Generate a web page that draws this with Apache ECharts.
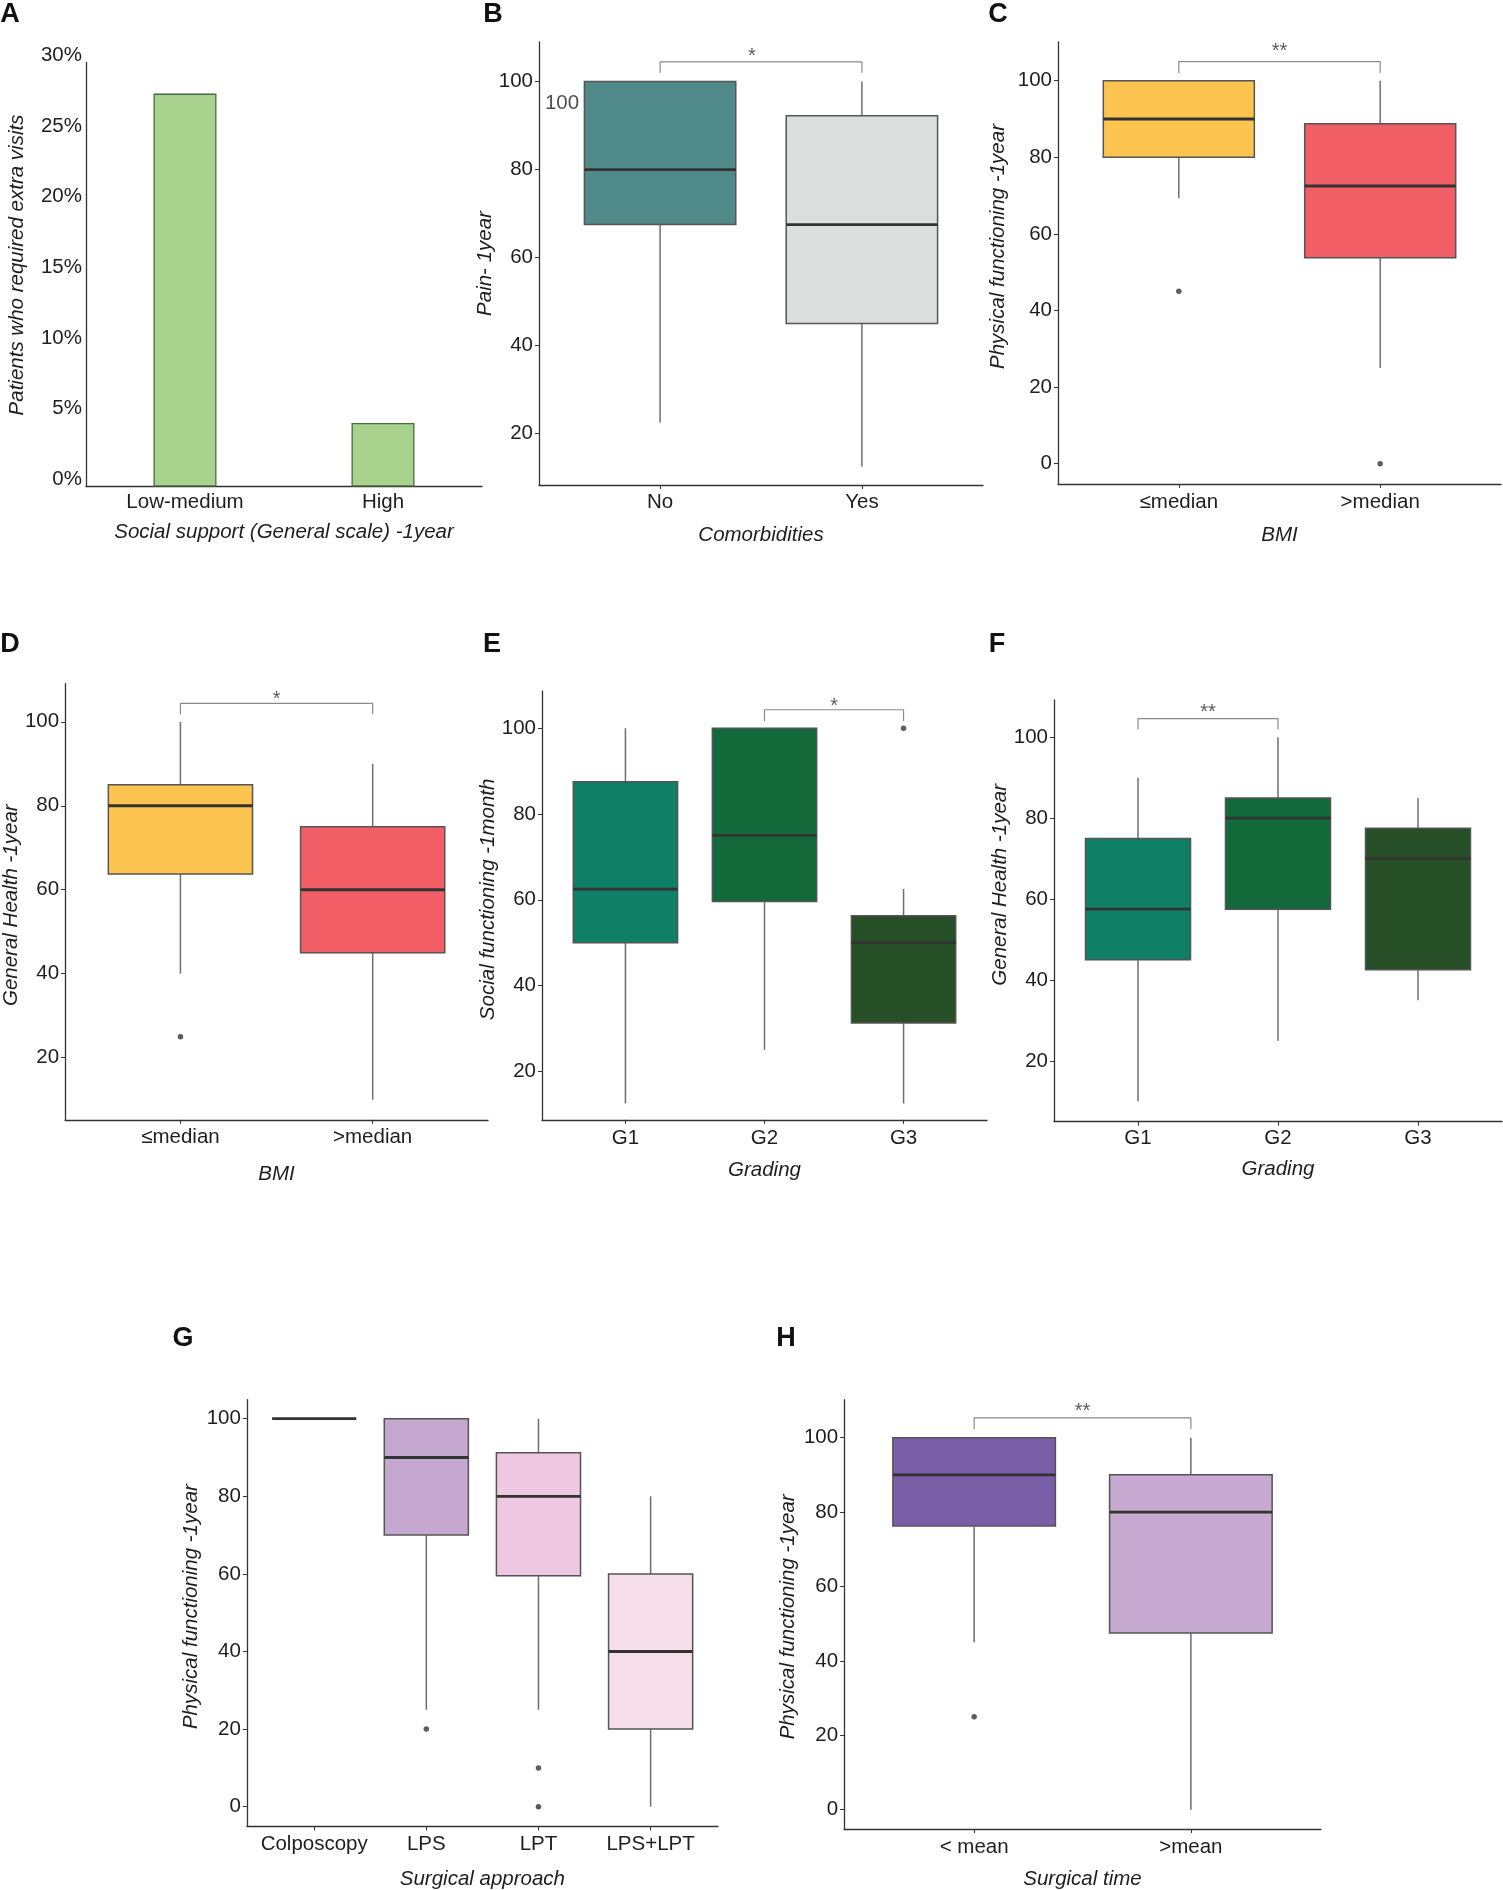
<!DOCTYPE html>
<html>
<head>
<meta charset="utf-8">
<script src="https://cdn.jsdelivr.net/npm/echarts@6/dist/echarts.min.js"></script>
<style>
html,body{margin:0;padding:0;background:#fff;}
#c{width:1503px;height:1890px;}
</style>
</head>
<body>
<div id="c"></div>
<script>
// ---------------- DATA ----------------
// Panel A (bar, percent)
const catsA = ['Low-medium', 'High'];
const valsA = [27.8, 4.5];

// Box data: [lower whisker, Q1, median, Q3, upper whisker]
const catsB = ['No', 'Yes'];
const boxB = [[22.5, 67.5, 80, 100, 100], [12.5, 45, 67.5, 92.25, 100]];
const outB = [];
const sigB = [1, 2, 104.5, 102];
const starB = ['*', 1.455, 106.9];
const noteB = ['100', 0.514, 95.1];

const catsC = ['\u2264median', '>median'];
const boxC = [[69.3, 80, 90, 100, 100], [25, 53.75, 72.5, 88.75, 100]];
const outC = [[1, 45], [2, 0]];
const sigC = [1, 2, 105, 102];
const starC = ['**', 1.5, 108.9];

const catsD = ['\u2264median', '>median'];
const boxD = [[40, 63.75, 80, 85, 100], [10, 45, 60, 75, 90]];
const outD = [[1, 25]];
const sigD = [1, 2, 104.4, 101.8];
const starD = ['*', 1.5, 106.5];

const catsE = ['G1', 'G2', 'G3'];
const boxE = [[12.5, 50, 62.5, 87.5, 100], [25, 59.6, 75, 100, 100], [12.5, 31.25, 50, 56.25, 62.5]];
const outE = [[3, 100]];
const sigE = [2, 3, 104.3, 101.7];
const starE = ['*', 2.5, 106.2];

const catsF = ['G1', 'G2', 'G3'];
const boxF = [[10, 45, 57.5, 75, 90], [25, 57.5, 80, 85, 100], [35, 42.5, 70, 77.5, 85]];
const outF = [];
const sigF = [1, 2, 104.6, 102];
const starF = ['**', 1.5, 107.4];

const catsG = ['Colposcopy', 'LPS', 'LPT', 'LPS+LPT'];
const boxG = [[100, 100, 100, 100, 100], [25, 70, 90, 100, 100], [25, 59.5, 80, 91.25, 100], [0, 20, 40, 60, 80]];
const outG = [[2, 20], [3, 10], [3, 0]];

const catsH = ['< mean', '>mean'];
const boxH = [[45, 76.25, 90, 100, 100], [0, 47.5, 80, 90, 100]];
const outH = [[1, 25]];
const sigH = [1, 2, 105.3, 102.3];
const starH = ['**', 1.5, 108.4];

const ticksY = [0, 20, 40, 60, 80, 100];

// ---------------- STYLE ----------------
const FONT = '"Liberation Sans", Arial, Helvetica, sans-serif';
const FS = 20.5;
const TXT = '#1e1e1e';
const AX = '#333';

const panels = [
  {cats: catsB, box: boxB, out: outB, sig: sigB, star: starB, note: noteB,
   colors: ['#508a88', '#dcdedd'], grid: {left: 539, top: 42, width: 444, height: 443},
   yMin: 8.3, yMax: 109.0, xName: 'Comorbidities', yName: 'Pain- 1year',
   lblM: 7, xGap: 40, yGap: 40.5, yPad: [0, 0, 0, 0]},
  {cats: catsC, box: boxC, out: outC, sig: sigC, star: starC,
   colors: ['#fec450', '#f15e66'], grid: {left: 1058, top: 42, width: 443, height: 442},
   yMin: -5.3, yMax: 110.1, xName: 'BMI', yName: 'Physical functioning -1year',
   lblM: 7.5, xGap: 41.5, yGap: 49.5, yPad: [0, 0, 0, 33]},
  {cats: catsD, box: boxD, out: outD, sig: sigD, star: starD,
   colors: ['#fec450', '#f15e66'], grid: {left: 59, top: 683.6, width: 429, height: 436.2},
   yMin: 5.2, yMax: 109.1, xName: 'BMI', yName: 'General Health -1year',
   lblM: 7, xGap: 44.5, yGap: 38.5, yPad: [0, 7, 0, 0]},
  {cats: catsE, box: boxE, out: outE, sig: sigE, star: starE,
   colors: ['#0f7f66', '#126939', '#264f28'], grid: {left: 542, top: 690.9, width: 445, height: 428.9},
   yMin: 8.7, yMax: 108.7, xName: 'Grading', yName: 'Social functioning -1month',
   lblM: 8, xGap: 40, yGap: 34.5, yPad: [0, 0, 0, 12]},
  {cats: catsF, box: boxF, out: outF, sig: sigF, star: starF,
   colors: ['#0f7f66', '#126939', '#264f28'], grid: {left: 1054, top: 700, width: 448, height: 421.6},
   yMin: 5.0, yMax: 109.2, xName: 'Grading', yName: 'General Health -1year',
   lblM: 6.5, xGap: 38, yGap: 33.5, yPad: [0, 0, 0, 52]},
  {cats: catsG, box: boxG, out: outG,
   colors: ['#ffffff', '#c5a8d0', '#edc8e0', '#f7deeb'], grid: {left: 246.9, top: 1399.7, width: 471, height: 427},
   yMin: -5.1, yMax: 104.9, xName: 'Surgical approach', yName: 'Physical functioning -1year',
   lblM: 7.5, xGap: 42.5, yGap: 45.5, yPad: [0, 0, 0, 13]},
  {cats: catsH, box: boxH, out: outH, sig: sigH, star: starH,
   colors: ['#7a5ea8', '#c6aad1'], grid: {left: 844.1, top: 1399.7, width: 476.8, height: 429.6},
   yMin: -5.2, yMax: 110.2, xName: 'Surgical time', yName: 'Physical functioning -1year',
   lblM: 8, xGap: 40, yGap: 45.5, yPad: [0, 5, 0, 0]}
];

const grids = [], xAxes = [], yAxes = [], series = [];

// Panel A
grids.push({left: 86, top: 62.5, width: 396, height: 424});
xAxes.push({
  gridIndex: 0, type: 'category', data: catsA,
  axisLine: {show: true, lineStyle: {color: AX, width: 1.3}},
  axisTick: {show: false},
  axisLabel: {fontSize: FS, color: TXT, fontFamily: FONT, margin: 5.5},
  name: 'Social support (General scale) -1year', nameLocation: 'middle', nameGap: 35.5,
  nameTextStyle: {fontSize: FS, fontStyle: 'italic', color: TXT, fontFamily: FONT}
});
yAxes.push({
  gridIndex: 0, type: 'value', min: 0, max: 30, interval: 5,
  axisLine: {show: true, lineStyle: {color: AX, width: 1.3}},
  axisTick: {show: false}, splitLine: {show: false},
  axisLabel: {fontSize: FS, color: TXT, fontFamily: FONT, margin: 4, formatter: '{value}%',
              verticalAlign: 'bottom', lineHeight: 14},
  name: 'Patients who required extra visits', nameLocation: 'middle', nameGap: 58.5,
  nameTextStyle: {fontSize: FS, fontStyle: 'italic', color: TXT, fontFamily: FONT, padding: [0, 0, 0, 19]}
});
series.push({
  type: 'bar', xAxisIndex: 0, yAxisIndex: 0, data: valsA, barWidth: 63,
  itemStyle: {color: '#a9d18e', borderColor: '#4d6a3e', borderWidth: 1.3},
  silent: true
});

function boxRenderer(colors) {
  return function (params, api) {
    const x = api.value(0);
    const lo = api.value(1), q1 = api.value(2), md = api.value(3), q3 = api.value(4), hi = api.value(5);
    const hw = 0.375;
    const pTL = api.coord([x - hw, q3]);
    const pBR = api.coord([x + hw, q1]);
    const cx = api.coord([x, md])[0];
    const yMd = api.coord([x, md])[1];
    const yHi = api.coord([x, hi])[1];
    const yLo = api.coord([x, lo])[1];
    const wh = {stroke: '#6e6e6e', lineWidth: 1.5};
    return {
      type: 'group',
      children: [
        {type: 'line', shape: {x1: cx, y1: yHi, x2: cx, y2: pTL[1]}, style: wh},
        {type: 'line', shape: {x1: cx, y1: pBR[1], x2: cx, y2: yLo}, style: wh},
        {type: 'rect', shape: {x: pTL[0], y: pTL[1], width: pBR[0] - pTL[0], height: pBR[1] - pTL[1]},
         style: {fill: colors[params.dataIndex], stroke: '#555', lineWidth: 1.5}},
        {type: 'line', shape: {x1: pTL[0], y1: yMd, x2: pBR[0], y2: yMd}, style: {stroke: '#333', lineWidth: 2.8}}
      ]
    };
  };
}

panels.forEach((p, k) => {
  const gi = k + 1;
  grids.push(p.grid);
  const n = p.cats.length;
  const pos = p.cats.map((c, i) => i + 1);
  xAxes.push({
    gridIndex: gi, type: 'value', min: 0.4, max: n + 0.6,
    axisLine: {show: true, onZero: false, lineStyle: {color: AX, width: 1.3}},
    axisTick: {show: true, length: 4, customValues: pos, lineStyle: {color: AX}},
    axisLabel: {customValues: pos, fontSize: FS, color: TXT, fontFamily: FONT, margin: p.lblM,
                formatter: (v) => p.cats[Math.round(v) - 1]},
    splitLine: {show: false},
    name: p.xName, nameLocation: 'middle', nameGap: p.xGap,
    nameTextStyle: {fontSize: FS, fontStyle: 'italic', color: TXT, fontFamily: FONT}
  });
  yAxes.push({
    gridIndex: gi, type: 'value', min: p.yMin, max: p.yMax,
    axisLine: {show: true, onZero: false, lineStyle: {color: AX, width: 1.3}},
    axisTick: {show: true, length: 4, customValues: ticksY, lineStyle: {color: AX}},
    axisLabel: {customValues: ticksY, fontSize: FS, color: TXT, fontFamily: FONT, margin: 6},
    splitLine: {show: false},
    name: p.yName, nameLocation: 'middle', nameGap: p.yGap,
    nameTextStyle: {fontSize: FS, fontStyle: 'italic', color: TXT, fontFamily: FONT, padding: p.yPad}
  });
  series.push({
    type: 'custom', xAxisIndex: gi, yAxisIndex: gi,
    data: p.box.map((b, i) => [i + 1].concat(b)),
    encode: {x: 0, y: [1, 2, 3, 4, 5]},
    renderItem: boxRenderer(p.colors), silent: true
  });
  if (p.out.length) {
    series.push({
      type: 'scatter', xAxisIndex: gi, yAxisIndex: gi, data: p.out,
      symbolSize: 5.5, itemStyle: {color: '#333'}, silent: true
    });
  }
  if (p.sig) {
    const s = p.sig;
    series.push({
      type: 'line', xAxisIndex: gi, yAxisIndex: gi,
      data: [[s[0], s[3]], [s[0], s[2]], [s[1], s[2]], [s[1], s[3]]],
      symbol: 'none', lineStyle: {color: '#8a8a8a', width: 1.2}, silent: true
    });
    series.push({
      type: 'scatter', xAxisIndex: gi, yAxisIndex: gi,
      data: [[p.star[1], p.star[2]]], symbolSize: 1, itemStyle: {color: 'transparent'},
      label: {show: true, position: 'inside', formatter: p.star[0], fontSize: 20, color: '#333',
              fontFamily: FONT, offset: [0, 5]},
      silent: true
    });
  }
  if (p.note) {
    series.push({
      type: 'scatter', xAxisIndex: gi, yAxisIndex: gi,
      data: [[p.note[1], p.note[2]]], symbolSize: 1, itemStyle: {color: 'transparent'},
      label: {show: true, position: 'inside', formatter: p.note[0], fontSize: FS, color: TXT, fontFamily: FONT},
      silent: true
    });
  }
});

const letters = [['A', 10, 15], ['B', 493, 15], ['C', 998, 15], ['D', 10, 645], ['E', 492, 645],
                 ['F', 997, 645], ['G', 183, 1339], ['H', 786, 1339]];

const chart = echarts.init(document.getElementById('c'), null, {renderer: 'canvas'});
chart.setOption({
  animation: false,
  backgroundColor: '#ffffff',
  textStyle: {fontFamily: FONT},
  grid: grids,
  xAxis: xAxes,
  yAxis: yAxes,
  series: series,
  graphic: letters.map(l => ({
    type: 'text', x: l[1], y: l[2],
    style: {text: l[0], fontSize: 27, fontWeight: 'bold', fill: '#111', fontFamily: FONT,
            align: 'center', verticalAlign: 'middle'}
  }))
});
</script>
</body>
</html>
